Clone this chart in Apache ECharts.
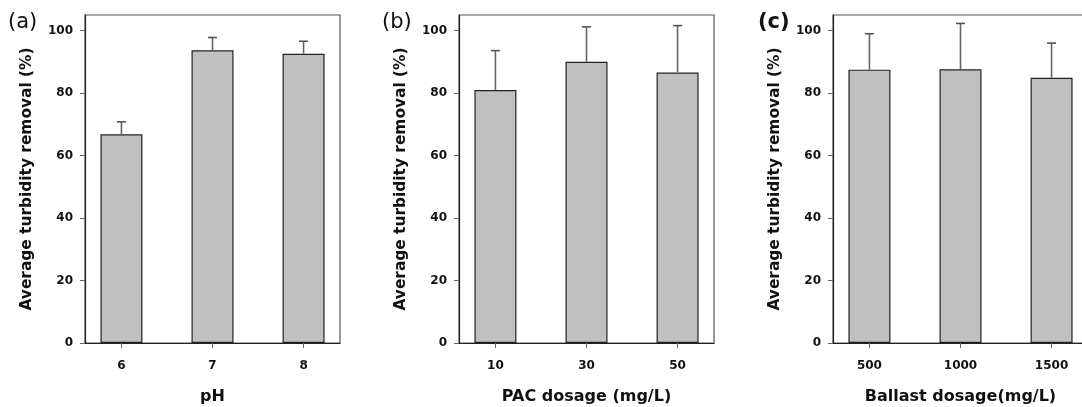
<!DOCTYPE html>
<html><head><meta charset="utf-8">
<script src="https://cdn.jsdelivr.net/npm/echarts@6/dist/echarts.min.js"></script>
<style>html,body{margin:0;padding:0;background:#fff}#c{width:1082px;height:407px}</style>
</head><body><div id="c"></div>
<script>
const panelLabels = ['(a)', '(b)', '(c)'];
const xNames = ['pH', 'PAC dosage (mg/L)', 'Ballast dosage(mg/L)'];
const yName = 'Average turbidity removal (%)';
const catsA = ['6', '7', '8'];
const catsB = ['10', '30', '50'];
const catsC = ['500', '1000', '1500'];
const meanA = [66.8, 93.7, 92.6];
const errTopA = [70.8, 97.8, 96.6];
const meanB = [81.0, 90.0, 86.6];
const errTopB = [93.6, 101.2, 101.6];
const meanC = [87.5, 87.6, 84.9];
const errTopC = [99.0, 102.3, 96.0];
const yTicks = [0, 20, 40, 60, 80, 100];

const cats = [catsA, catsB, catsC];
const means = [meanA, meanB, meanC];
const errs = [errTopA, errTopB, errTopC];
const lefts = [85, 459, 833];
const labelLefts = [8, 382, 758];
const FONT = 'DejaVu Sans';

const chart = echarts.init(document.getElementById('c'), null, {renderer: 'canvas'});

const grids = [], xAxes = [], yAxes = [], series = [], titles = [];
for (let k = 0; k < 3; k++) {
  grids.push({left: lefts[k], width: 255, top: 15, height: 328, show: true,
    borderColor: '#555', borderWidth: 1.2, containLabel: false, outerBoundsMode: 'none'});
  const idx = cats[k].map((_, i) => i);
  xAxes.push({
    gridIndex: k, type: 'value', min: -0.4, max: 2.4,
    name: xNames[k], nameLocation: 'middle', nameGap: 46,
    nameTextStyle: {fontFamily: FONT, fontWeight: 'bold', fontSize: 16, color: '#111'},
    axisLine: {show: true, onZero: false, lineStyle: {color: '#222', width: 1.2}},
    axisTick: {show: true, customValues: idx, length: 5, inside: false, lineStyle: {color: '#666'}},
    axisLabel: {customValues: idx, margin: 17, fontFamily: FONT, fontWeight: 'bold', fontSize: 12, color: '#111',
      formatter: (v) => cats[k][Math.round(v)]},
    splitLine: {show: false}
  });
  yAxes.push({
    gridIndex: k, type: 'value', min: 0, max: 105,
    name: yName, nameLocation: 'middle', nameGap: 51, nameRotate: 90,
    nameTextStyle: {fontFamily: FONT, fontWeight: 'bold', fontSize: 15.4, color: '#111'},
    axisLine: {show: true, onZero: false, lineStyle: {color: '#222', width: 1.2}},
    axisTick: {show: true, customValues: yTicks, length: 5, inside: false, lineStyle: {color: '#666'}},
    axisLabel: {customValues: yTicks, margin: 12, fontFamily: FONT, fontWeight: 'bold', fontSize: 12, color: '#111'},
    splitLine: {show: false}
  });
  series.push({
    type: 'bar', xAxisIndex: k, yAxisIndex: k, barWidth: 42,
    data: means[k].map((v, i) => [i, v]),
    itemStyle: {color: '#c0c0c0', borderColor: '#222', borderWidth: 1.2},
    z: 2, silent: true
  });
  series.push({
    type: 'custom', xAxisIndex: k, yAxisIndex: k, z: 3, silent: true,
    encode: {x: 0, y: [1, 2]},
    data: means[k].map((v, i) => [i, v, errs[k][i]]),
    renderItem: function (params, api) {
      const x = api.value(0), y0 = api.value(1), y1 = api.value(2);
      const p0 = api.coord([x, y0]);
      const p1 = api.coord([x, y1]);
      const hw = 4.5;
      return {type: 'group', children: [
        {type: 'line', shape: {x1: p0[0], y1: p0[1], x2: p1[0], y2: p1[1]}, style: {stroke: '#666', lineWidth: 1.6}},
        {type: 'line', shape: {x1: p1[0] - hw, y1: p1[1], x2: p1[0] + hw, y2: p1[1]}, style: {stroke: '#555', lineWidth: 1.6}}
      ]};
    }
  });
  titles.push({text: panelLabels[k], left: labelLefts[k], top: 12, padding: 0,
    textStyle: {fontFamily: FONT, fontWeight: k === 2 ? 'bold' : 'normal', fontSize: 21, color: '#111'}});
}

chart.setOption({
  animation: false,
  backgroundColor: '#fff',
  title: titles,
  grid: grids, xAxis: xAxes, yAxis: yAxes, series: series
});
</script></body></html>
